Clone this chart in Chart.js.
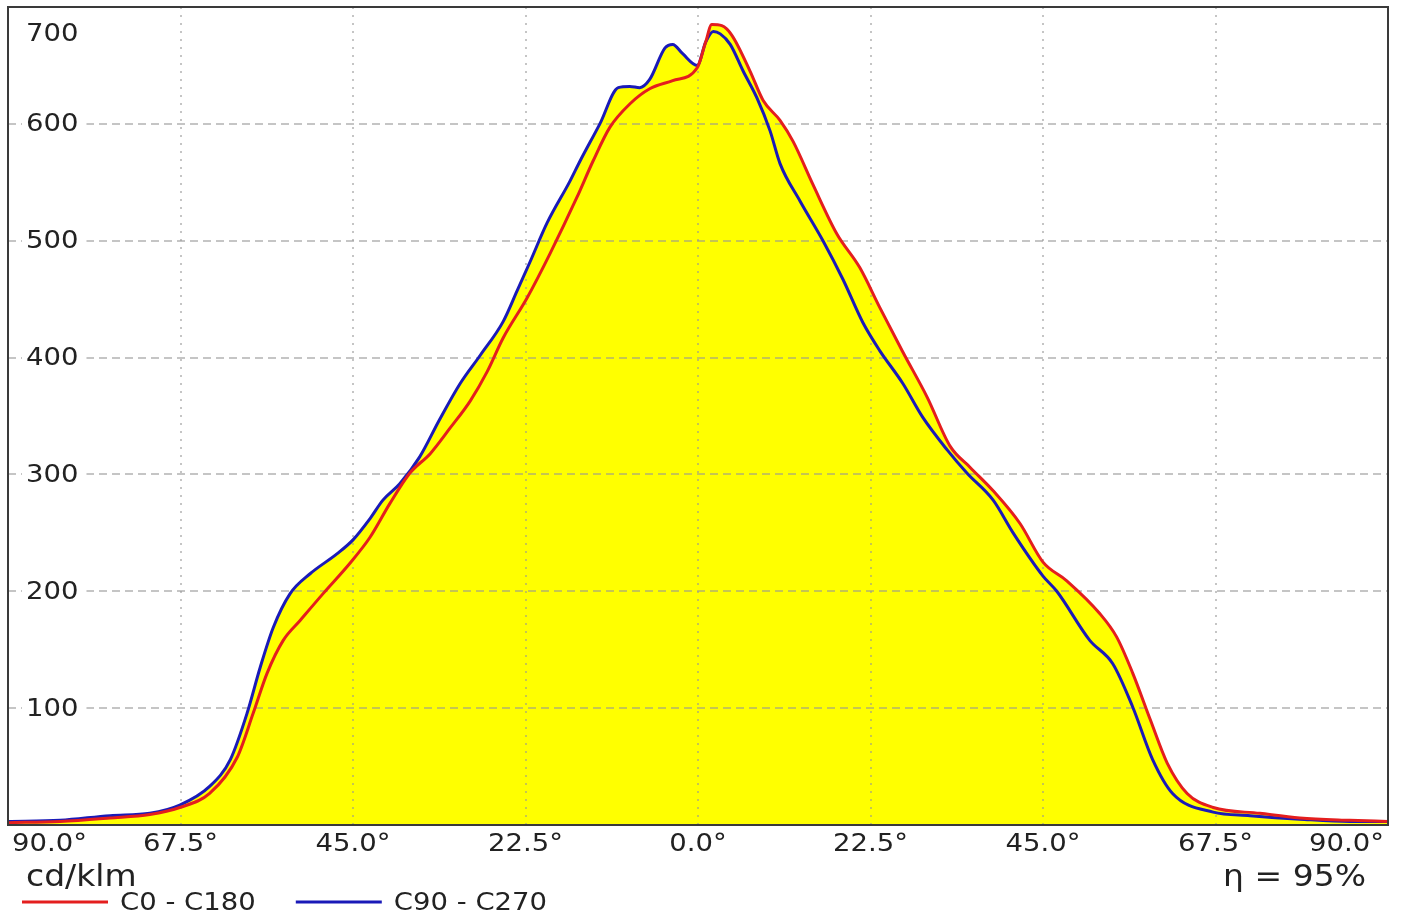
<!DOCTYPE html>
<html>
<head>
<meta charset="utf-8">
<title>Light distribution curve</title>
<script src="https://cdn.jsdelivr.net/npm/chart.js@4.4.1/dist/chart.umd.min.js"></script>
<style>
  html, body { margin: 0; padding: 0; background: #FFFFFF; }
  #wrap { width: 1403px; height: 919px; }
</style>
</head>
<body>
<div id="wrap"><canvas id="ldc" width="1403" height="919"></canvas></div>
<script>
/* ============================================================
   Light distribution curve — C0/C180 and C90/C270 planes
   ============================================================ */

// ── Data (angles in degrees, intensity in cd/klm) ───────────
const c0Angles = [-90, -83.2, -76.7, -71.5, -67.6, -63.7, -60.1, -58.0, -56.2, -54.1, -51.9, -48.9, -45.4, -42.8,
  -40.2, -37.6, -34.9, -32.3, -29.7, -27.5, -25.4, -22.3, -19.3, -15.8, -13.7, -11.5, -8.9, -6.3, -3.3, -0.1,
  1.0, 1.8, 3.1, 4.4, 6.8, 8.5, 10.7, 12.4, 15.0, 18.1, 21.1, 23.7, 26.7, 29.9, 32.9, 35.5, 38.5, 42.0, 45.0,
  48.1, 52.4, 54.6, 56.7, 59.0, 61.2, 63.8, 67.2, 73.3, 78.5, 85, 90];
const c0Values = [2, 3, 6, 9, 15, 27, 58, 96, 130, 158, 175, 198, 224, 246,
  275, 301, 318, 340, 363, 388, 417, 451, 489, 537, 568, 597, 617, 630, 637, 648,
  670, 685, 684, 676, 645, 620, 603, 585, 548, 506, 477, 443, 405, 366, 324, 306, 286, 258, 225,
  209, 181, 161, 130, 90, 53, 27, 15, 10, 6, 4, 3];

const c90Angles = [-90, -83.2, -76.7, -71.5, -67.6, -63.7, -61.0, -58.8, -57.1, -55.4, -53.2, -50.6, -47.1, -45.0,
  -42.8, -41.1, -38.9, -36.3, -33.7, -31.0, -28.4, -25.4, -23.6, -21.9, -19.7, -16.7, -15.4, -12.8, -10.4, -8.9,
  -7.6, -6.3, -4.3, -3.3, -2.0, -0.1, 1.0, 2.0, 2.9, 4.2, 5.9, 7.7, 9.4, 10.7, 13.3, 16.3, 18.9, 21.5, 23.7,
  26.7, 29.3, 32.5, 35.1, 38.5, 41.1, 45.0, 46.8, 51.1, 54.1, 56.7, 59.3, 61.9, 67.2, 72.0, 78.5, 85.0, 90];
const c90Values = [3, 4, 8, 10, 17, 33, 56, 96, 135, 169, 198, 215, 232, 244,
  262, 278, 292, 315, 347, 378, 402, 431, 457, 482, 515, 551, 568, 600, 631, 632,
  631, 638, 665, 668, 660, 650, 670, 679, 677, 668, 645, 622, 594, 566, 534, 500, 467, 430, 406,
  378, 349, 321, 301, 278, 250, 213, 200, 158, 138, 101, 56, 27, 11, 8, 5, 3, 3];

const seriesLabels = ['C0 - C180', 'C90 - C270'];
const xTickValues = [-90, -67.5, -45, -22.5, 0, 22.5, 45, 67.5, 90];
const xTickLabels = ['90.0°', '67.5°', '45.0°', '22.5°', '0.0°', '22.5°', '45.0°', '67.5°', '90.0°'];
const yTickValues = [100, 200, 300, 400, 500, 600, 700];
const unitLabel = 'cd/klm';
const efficiencyLabel = 'η = 95%';

// ── Style ───────────────────────────────────────────────────
const style = {
  font: 'DejaVu Sans, Verdana, sans-serif',
  text: '#222222',
  frame: '#3A3A3A',
  grid: 'rgba(150,150,150,0.55)',
  fill: '#FFFF00',
  red: '#E41E1E',
  blue: '#1A1AB8',
  stretch: 1.1,   // the original text is a touch wider than DejaVu
};

function toPoints(angles, values) {
  return angles.map((a, i) => ({ x: a, y: values[i] }));
}

// Text drawn slightly stretched horizontally
function wideText(ctx, txt, x, y, align) {
  ctx.save();
  ctx.translate(x, y);
  ctx.scale(style.stretch, 1);
  ctx.textAlign = align;
  ctx.fillText(txt, 0, 0);
  ctx.restore();
}

// ── Frame, tick labels, unit text and legend ────────────────
const decorPlugin = {
  id: 'ldcDecor',
  afterDraw(chart) {
    const { ctx, chartArea: area, scales } = chart;
    ctx.save();

    // frame
    ctx.strokeStyle = style.frame;
    ctx.lineWidth = 2;
    ctx.strokeRect(area.left, area.top, area.right - area.left, area.bottom - area.top);

    // y labels inside the plot, white box behind them
    ctx.font = '25px ' + style.font;
    ctx.textBaseline = 'middle';
    yTickValues.forEach(v => {
      let y = scales.y.getPixelForValue(v);
      y = Math.max(y, area.top + 26);
      const txt = String(v);
      const w = ctx.measureText(txt).width * style.stretch;
      ctx.fillStyle = '#FFFFFF';
      ctx.fillRect(area.left + 14, y - 13, w + 12, 26);
      ctx.fillStyle = style.text;
      wideText(ctx, txt, area.left + 18, y + 1, 'left');
    });

    // x labels under the plot, outer ones pulled inward
    xTickValues.forEach((v, i) => {
      const x = scales.x.getPixelForValue(v);
      const y = area.bottom + 19;
      if (i === 0) wideText(ctx, xTickLabels[i], x + 4, y, 'left');
      else if (i === xTickValues.length - 1) wideText(ctx, xTickLabels[i], x - 4, y, 'right');
      else wideText(ctx, xTickLabels[i], x, y, 'center');
    });

    // unit + efficiency
    ctx.font = '30px ' + style.font;
    wideText(ctx, unitLabel, area.left + 18, area.bottom + 53, 'left');
    wideText(ctx, efficiencyLabel, area.right - 22, area.bottom + 53, 'right');

    // legend
    ctx.font = '25px ' + style.font;
    let lx = area.left + 14;
    const ly = area.bottom + 77;
    chart.data.datasets.forEach(ds => {
      ctx.strokeStyle = ds.borderColor;
      ctx.lineWidth = 3;
      ctx.beginPath();
      ctx.moveTo(lx, ly);
      ctx.lineTo(lx + 86, ly);
      ctx.stroke();
      ctx.fillStyle = style.text;
      wideText(ctx, ds.label, lx + 98, ly + 1, 'left');
      lx += 98 + ctx.measureText(ds.label).width * style.stretch + 40;
    });

    ctx.restore();
  },
};

// ── Chart ───────────────────────────────────────────────────
const lineDefaults = {
  fill: 'origin',
  backgroundColor: style.fill,
  borderWidth: 3,
  pointRadius: 0,
  cubicInterpolationMode: 'monotone',
};

new Chart(document.getElementById('ldc'), {
  type: 'line',
  data: {
    datasets: [
      { ...lineDefaults, label: seriesLabels[0], data: toPoints(c0Angles, c0Values), borderColor: style.red },
      { ...lineDefaults, label: seriesLabels[1], data: toPoints(c90Angles, c90Values), borderColor: style.blue },
    ],
  },
  options: {
    responsive: false,
    animation: false,
    layout: { padding: { left: 8, top: 7, right: 15, bottom: 94 } },
    plugins: {
      legend: { display: false },
      tooltip: { enabled: false },
      filler: { drawTime: 'beforeDraw' },
    },
    scales: {
      x: {
        type: 'linear',
        min: -90,
        max: 90,
        afterBuildTicks: axis => { axis.ticks = xTickValues.map(v => ({ value: v })); },
        ticks: { display: false },
        grid: { color: style.grid, lineWidth: 2, drawTicks: false },
        border: { display: false, dash: [2, 6] },
      },
      y: {
        min: 0,
        max: 700,
        afterBuildTicks: axis => { axis.ticks = [0].concat(yTickValues).map(v => ({ value: v })); },
        ticks: { display: false },
        grid: { color: style.grid, lineWidth: 2, drawTicks: false },
        border: { display: false, dash: [8, 5] },
      },
    },
  },
  plugins: [decorPlugin],
});
</script>
</body>
</html>
